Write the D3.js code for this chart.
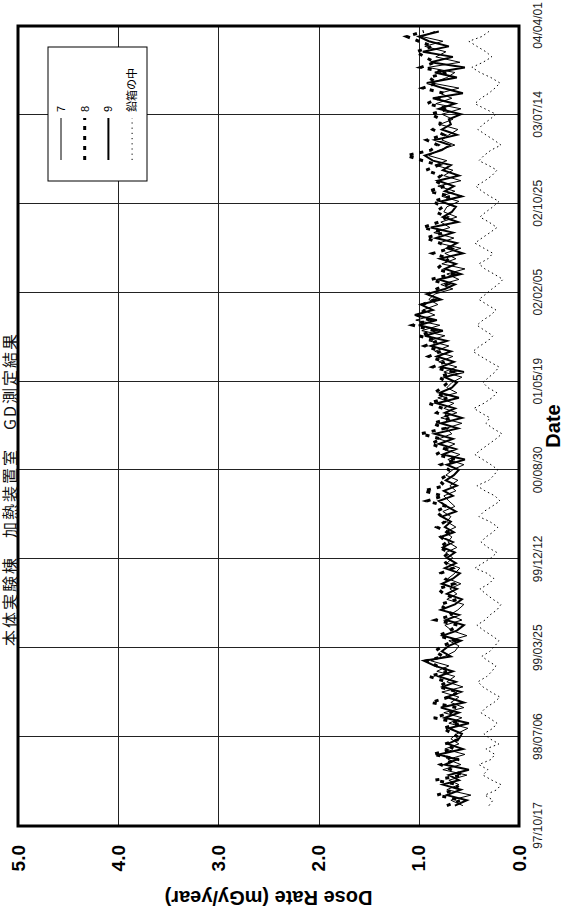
<!DOCTYPE html>
<html><head><meta charset="utf-8">
<script src="https://cdn.jsdelivr.net/npm/d3@7"></script>
<style>html,body{margin:0;padding:0;background:#fff;} svg{display:block;}</style>
</head><body>
<svg id="chart" width="564" height="915"></svg>
<script>
const dates = [
"97/12/16","98/01/01","98/01/16","98/02/01","98/02/16","98/03/01","98/03/16","98/04/01","98/04/16","98/05/01","98/05/16","98/06/01","98/06/16","98/07/01",
"98/07/16","98/08/01","98/08/16","98/09/01","98/09/16","98/10/01","98/10/16","98/11/01","98/11/16","98/12/01","98/12/16","99/01/01","99/01/16","99/02/01","99/02/16","99/03/01","99/03/16",
"99/04/01","99/04/16","99/05/01","99/05/16","99/06/01","99/06/16","99/07/01","99/07/16","99/08/01","99/08/16","99/09/01","99/09/16","99/10/01","99/10/16","99/11/01","99/11/16","99/12/01",
"99/12/16","00/01/01","00/01/16","00/02/01","00/02/16","00/03/01","00/03/16","00/04/01","00/04/16","00/05/01","00/05/16","00/06/01","00/06/16","00/07/01","00/07/16","00/08/01","00/08/16",
"00/09/01","00/09/16","00/10/01","00/10/16","00/11/01","00/11/16","00/12/01","00/12/16","01/01/01","01/01/16","01/02/01","01/02/16","01/03/01","01/03/16","01/04/01","01/04/16","01/05/01",
"01/05/16","01/06/01","01/06/16","01/07/01","01/07/16","01/08/01","01/08/16","01/09/01","01/09/16","01/10/01","01/10/16","01/11/01","01/11/16","01/12/01","01/12/16","02/01/01","02/01/16",
"02/02/01","02/02/16","02/03/01","02/03/16","02/04/01","02/04/16","02/05/01","02/05/16","02/06/01","02/06/16","02/07/01","02/07/16","02/08/01","02/08/16","02/09/01","02/09/16","02/10/01",
"02/10/16","02/11/01","02/11/16","02/12/01","02/12/16","03/01/01","03/01/16","03/02/01","03/02/16","03/03/01","03/03/16","03/04/01","03/04/16","03/05/01","03/05/16","03/06/01","03/06/16",
"03/07/01","03/07/16","03/08/01","03/08/16","03/09/01","03/09/16","03/10/01","03/10/16","03/11/01","03/11/16","03/12/01","03/12/16","04/01/01","04/01/16","04/02/01","04/02/16","04/03/01","04/03/16"
];
const series7 = [
0.56,0.68,0.48,0.72,0.60,0.70,0.52,0.76,0.58,0.71,0.54,0.74,0.60,0.68,
0.62,0.51,0.70,0.57,0.75,0.55,0.68,0.60,0.77,0.56,0.72,0.64,0.82,0.70,0.88,0.74,0.64,
0.60,0.70,0.52,0.67,0.74,0.57,0.69,0.61,0.55,0.72,0.62,0.69,0.58,0.71,0.64,0.59,0.72,
0.66,0.73,0.62,0.71,0.67,0.74,0.63,0.72,0.68,0.76,0.64,0.70,0.75,0.63,0.69,0.61,0.73,
0.66,0.55,0.71,0.59,0.76,0.64,0.80,0.67,0.73,0.57,0.78,0.62,0.75,0.65,0.81,0.62,0.72,
0.67,0.57,0.75,0.62,0.80,0.66,0.84,0.70,0.90,0.74,0.97,0.79,1.03,0.84,0.96,0.81,0.90,
0.84,0.66,0.78,0.60,0.72,0.54,0.77,0.63,0.74,0.58,0.80,0.65,0.85,0.69,0.78,0.62,0.75,
0.72,0.60,0.77,0.64,0.81,0.58,0.75,0.66,0.84,0.72,0.90,0.80,0.64,0.77,0.70,0.61,0.79,
0.66,0.77,0.58,0.83,0.67,0.79,0.60,0.87,0.72,0.64,0.91,0.59,0.83,0.73,0.94,0.76,0.97,0.84
];
const series8 = [
0.72,0.58,0.82,0.64,0.60,0.84,0.56,0.68,0.78,0.60,0.86,0.65,0.74,0.58,
0.66,0.76,0.58,0.85,0.68,0.62,0.88,0.70,0.60,0.80,0.72,0.90,0.69,0.82,0.92,0.76,0.84,
0.76,0.64,0.80,0.69,0.61,0.83,0.66,0.72,0.79,0.62,0.75,0.81,0.65,0.74,0.78,0.66,0.73,
0.76,0.70,0.79,0.72,0.78,0.71,0.82,0.74,0.77,0.83,0.72,0.92,0.76,0.95,0.74,0.80,0.72,
0.70,0.78,0.62,0.83,0.73,0.88,0.78,0.98,0.74,0.86,0.67,0.82,0.76,0.90,0.71,0.84,0.77,
0.71,0.80,0.66,0.86,0.74,0.90,0.78,0.94,0.81,1.00,0.85,1.06,0.89,1.02,0.93,0.96,0.84,
0.90,0.82,0.72,0.88,0.66,0.82,0.76,0.70,0.86,0.68,0.79,0.93,0.75,0.96,0.80,0.72,0.83,
0.76,0.86,0.68,0.90,0.74,0.84,0.78,0.93,0.80,0.96,1.12,0.88,0.81,0.92,0.75,0.86,0.79,
0.78,0.88,0.70,0.92,0.80,0.75,0.96,0.82,0.90,0.72,0.98,0.84,0.94,1.03,0.86,1.00,1.12,0.95
];
const series9 = [
0.64,0.52,0.72,0.58,0.76,0.60,0.70,0.50,0.74,0.62,0.80,0.56,0.71,0.60,
0.57,0.70,0.50,0.74,0.60,0.78,0.55,0.72,0.58,0.76,0.63,0.80,0.66,0.84,0.95,0.68,0.77,
0.70,0.58,0.76,0.62,0.55,0.73,0.60,0.78,0.64,0.57,0.72,0.62,0.77,0.66,0.59,0.74,0.63,
0.72,0.64,0.76,0.66,0.78,0.65,0.74,0.68,0.77,0.63,0.72,0.80,0.66,0.75,0.62,0.73,0.65,
0.60,0.72,0.54,0.76,0.63,0.80,0.66,0.84,0.61,0.78,0.57,0.74,0.64,0.82,0.60,0.79,0.67,
0.62,0.74,0.55,0.78,0.65,0.82,0.68,0.88,0.72,0.94,0.76,1.00,0.82,1.04,0.86,0.98,0.78,
0.92,0.74,0.64,0.80,0.58,0.74,0.63,0.79,0.56,0.72,0.62,0.83,0.66,0.88,0.61,0.76,0.67,
0.63,0.78,0.57,0.74,0.65,0.81,0.60,0.76,0.68,0.86,0.94,0.77,0.69,0.84,0.62,0.77,0.68,
0.70,0.58,0.80,0.64,0.86,0.56,0.76,0.92,0.62,0.84,0.54,0.88,0.66,0.96,0.70,0.90,1.00,0.80
];
const seriesLead = [
0.30,0.26,0.34,0.22,0.18,0.27,0.36,0.31,0.40,0.28,0.24,0.33,0.20,0.29,
0.35,0.26,0.22,0.30,0.38,0.33,0.25,0.19,0.28,0.36,0.41,0.32,0.27,0.23,0.31,0.37,0.29,
0.24,0.20,0.27,0.35,0.42,0.34,0.29,0.22,0.18,0.26,0.33,0.39,0.30,0.25,0.32,0.44,0.36,
0.28,0.22,0.31,0.38,0.33,0.26,0.21,0.29,0.40,0.35,0.27,0.19,0.24,0.34,0.42,0.30,0.25,
0.21,0.28,0.36,0.44,0.37,0.30,0.23,0.17,0.26,0.33,0.29,0.38,0.45,0.35,0.27,0.22,0.31,
0.36,0.30,0.24,0.20,0.29,0.38,0.46,0.39,0.31,0.26,0.34,0.42,0.36,0.28,0.23,0.32,0.40,
0.33,0.27,0.21,0.16,0.25,0.34,0.40,0.31,0.26,0.35,0.44,0.37,0.29,0.22,0.30,0.39,0.33,
0.26,0.20,0.29,0.37,0.43,0.34,0.27,0.22,0.31,0.40,0.35,0.28,0.18,0.25,0.33,0.41,0.36,
0.29,0.23,0.34,0.44,0.38,0.30,0.24,0.19,0.28,0.39,0.47,0.36,0.27,0.33,0.42,0.50,0.37,0.30
];
const dateTicks = ["97/10/17","98/07/06","99/03/25","99/12/12","00/08/30","01/05/19","02/02/05","02/10/25","03/07/14","04/04/01"];
const valueTicks = [0,1,2,3,4,5];
const legendLabels = ["7","8","9","鉛箱の中"];
const titleText = "本体実験棟　加熱装置室　GD測定結果";
const xTitle = "Date";
const yTitle = "Dose Rate (mGy/year)";

const parse = d3.utcParse("%y/%m/%d");
const PL = 89, PR = 889, PT = 18, PB = 519;
const svg = d3.select("#chart");
const g = svg.append("g").attr("transform", "translate(0,915) rotate(-90)");

const x = d3.scaleUtc().domain([parse(dateTicks[0]), parse(dateTicks[dateTicks.length-1])]).range([PL, PR]);
const y = d3.scaleLinear().domain([0, 5]).range([PB, PT]);

// grid
g.append("g").selectAll("line").data(valueTicks.slice(1, -1)).join("line")
  .attr("x1", PL).attr("x2", PR).attr("y1", d => Math.round(y(d)) + 0.5).attr("y2", d => Math.round(y(d)) + 0.5)
  .attr("stroke", "#222").attr("stroke-width", 1);
g.append("g").selectAll("line").data(dateTicks.slice(1, -1)).join("line")
  .attr("y1", PT).attr("y2", PB).attr("x1", d => Math.round(x(parse(d))) + 0.5).attr("x2", d => Math.round(x(parse(d))) + 0.5)
  .attr("stroke", "#222").attr("stroke-width", 1);

// series
const seriesDefs = [
  {vals: seriesLead, w: 1, dash: "1.5,3"},
  {vals: series7, w: 1, dash: null},
  {vals: series8, w: 3, dash: "4,6"},
  {vals: series9, w: 2, dash: null}
];
const line = d3.line().x(d => x(d.date)).y(d => y(d.v));
seriesDefs.forEach(s => {
  const data = dates.map((d, i) => ({date: parse(d), v: s.vals[i]})).filter(d => d.v != null);
  g.append("path").datum(data).attr("d", line)
    .attr("fill", "none").attr("stroke", "#000").attr("stroke-width", s.w)
    .attr("stroke-dasharray", s.dash).attr("stroke-linejoin", "miter");
});

// frame
g.append("rect").attr("x", PL).attr("y", PT).attr("width", PR - PL).attr("height", PB - PT)
  .attr("fill", "none").attr("stroke", "#000").attr("stroke-width", 3);

// axes
const xAxis = g.append("g").attr("transform", `translate(0,${PB})`)
  .call(d3.axisBottom(x).tickValues(dateTicks.map(parse)).tickFormat(d3.utcFormat("%y/%m/%d")).tickSize(0).tickPadding(14));
xAxis.select(".domain").remove();
xAxis.selectAll("text").attr("font-family", "'Liberation Sans', Arial, sans-serif").attr("font-size", 12).attr("fill", "#222");

const yAxis = g.append("g").attr("transform", `translate(${PL},0)`)
  .call(d3.axisLeft(y).tickValues(valueTicks).tickFormat(d3.format(".1f")).tickSize(0).tickPadding(19));
yAxis.select(".domain").remove();
yAxis.selectAll("text").attr("font-family", "'Liberation Sans', Arial, sans-serif").attr("font-size", 19).attr("font-weight", "bold").attr("fill", "#000");

// titles
g.append("text").attr("x", (PL + PR) / 2).attr("y", 560).attr("text-anchor", "middle")
  .attr("font-family", "'Liberation Sans', Arial, sans-serif").attr("font-size", 20).attr("font-weight", "bold").text(xTitle);
g.append("text").attr("transform", `translate(24,${(PT + PB) / 2}) rotate(-90)`).attr("text-anchor", "middle")
  .attr("font-family", "'Liberation Sans', Arial, sans-serif").attr("font-size", 20).attr("font-weight", "bold").text(yTitle);
g.append("text").attr("x", 426).attr("y", 16).attr("text-anchor", "middle")
  .attr("font-family", "'Noto Sans CJK JP', sans-serif").attr("font-size", 16).attr("letter-spacing", 2).attr("fill", "#111").text(titleText);

// legend
const LX = 734, LY = 48, LW = 134, LH = 99;
g.append("rect").attr("x", LX).attr("y", LY).attr("width", LW).attr("height", LH)
  .attr("fill", "#fff").attr("stroke", "#000").attr("stroke-width", 1);
const legStyles = [seriesDefs[1], seriesDefs[2], seriesDefs[3], seriesDefs[0]];
const lg = g.append("g").selectAll("g").data(legendLabels).join("g")
  .attr("transform", (d, i) => `translate(0,${61 + i * 23.7})`);
lg.append("line").attr("x1", 755).attr("x2", 797).attr("y1", 0).attr("y2", 0)
  .attr("stroke", "#000").attr("stroke-width", (d, i) => Math.min(legStyles[i].w, 3)).attr("stroke-dasharray", (d, i) => i === 3 ? "1.2,4" : legStyles[i].dash);
lg.append("text").attr("x", 803).attr("y", 0).attr("dominant-baseline", "central")
  .attr("font-family", "'Liberation Sans', 'Noto Sans CJK JP', sans-serif").attr("font-size", 11).attr("fill", "#000").text(d => d);
</script>
</body></html>
